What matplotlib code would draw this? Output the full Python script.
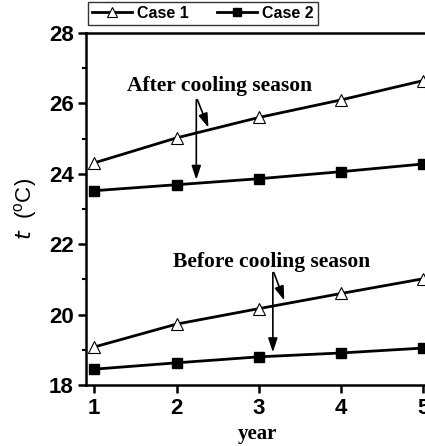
import matplotlib
matplotlib.use("Agg")
import matplotlib.pyplot as plt
from matplotlib.ticker import MultipleLocator

years = [1, 2, 3, 4, 5]
case1_after = [24.31, 25.02, 25.6, 26.1, 26.65]
case2_after = [23.52, 23.69, 23.86, 24.06, 24.28]
case1_before = [19.08, 19.73, 20.17, 20.6, 21.02]
case2_before = [18.45, 18.63, 18.8, 18.91, 19.05]

fig = plt.figure(figsize=(4.25, 4.46), dpi=100)
ax = fig.add_axes([86/425, 1-385/446, 1-86/425+0.01, (385-33)/446])

lw = 2.0
l1, = ax.plot(years, case1_after, color='black', lw=lw, marker='^', ms=9,
              mfc='white', mec='black', mew=0.8)
ax.plot(years, case1_before, color='black', lw=lw, marker='^', ms=9,
        mfc='white', mec='black', mew=0.8)
l2, = ax.plot(years, case2_after, color='black', lw=lw, marker='s', ms=7,
              mfc='black', mec='black')
ax.plot(years, case2_before, color='black', lw=lw, marker='s', ms=7,
        mfc='black', mec='black')

ax.set_xlim(0.9, 5.07)
ax.set_ylim(18, 28)
ax.set_xticks(years)
ax.yaxis.set_major_locator(MultipleLocator(2))
ax.yaxis.set_minor_locator(MultipleLocator(1))

for s in ['left', 'bottom', 'top']:
    ax.spines[s].set_linewidth(1.8)
ax.spines['right'].set_visible(False)
ax.tick_params(axis='both', which='major', direction='out', length=6, width=1.8,
               labelsize=16, pad=3)
ax.tick_params(axis='y', which='minor', direction='out', length=3, width=1.5)
ax.tick_params(top=False, right=False)
for lab in ax.get_xticklabels() + ax.get_yticklabels():
    lab.set_fontfamily('Liberation Sans')
    lab.set_fontweight('bold')

ax.set_xlabel('year', family='Liberation Serif', fontweight='bold', fontsize=15, labelpad=4)
ax.set_ylabel(r'$\mathit{t}$  ($\mathregular{^o}$C)', family='Liberation Sans', fontsize=16, labelpad=7)

txt_kw = dict(family='Liberation Serif', fontweight='bold', fontsize=15.5, ha='center', va='center')
ax.text(2.52, 26.5, 'After cooling season', **txt_kw)
ax.text(3.16, 21.5, 'Before cooling season', **txt_kw)

arr = dict(arrowstyle='-|>,head_length=0.6,head_width=0.2', color='black', lw=1.2, mutation_scale=14)
ax.annotate('', xy=(2.40, 25.24), xytext=(2.24, 26.18), arrowprops=arr)
ax.annotate('', xy=(2.24, 23.75), xytext=(2.24, 26.18), arrowprops=arr)
ax.annotate('', xy=(3.32, 20.33), xytext=(3.17, 21.27), arrowprops=arr)
ax.annotate('', xy=(3.17, 18.85), xytext=(3.17, 21.27), arrowprops=arr)

leg = fig.legend([l1, l2], ['Case 1', 'Case 2'], ncol=2, loc='upper left',
                 bbox_to_anchor=(88/425, 1-2/446), frameon=True, fancybox=False,
                 prop={'family': 'Liberation Sans', 'weight': 'bold', 'size': 11.5},
                 borderpad=0.25, handlelength=2.5, handletextpad=0.3, columnspacing=1.8,
                 borderaxespad=0, markerscale=0.8)
leg.get_frame().set_edgecolor('black')
leg.get_frame().set_linewidth(1.0)

fig.savefig('out.png', dpi=100)
